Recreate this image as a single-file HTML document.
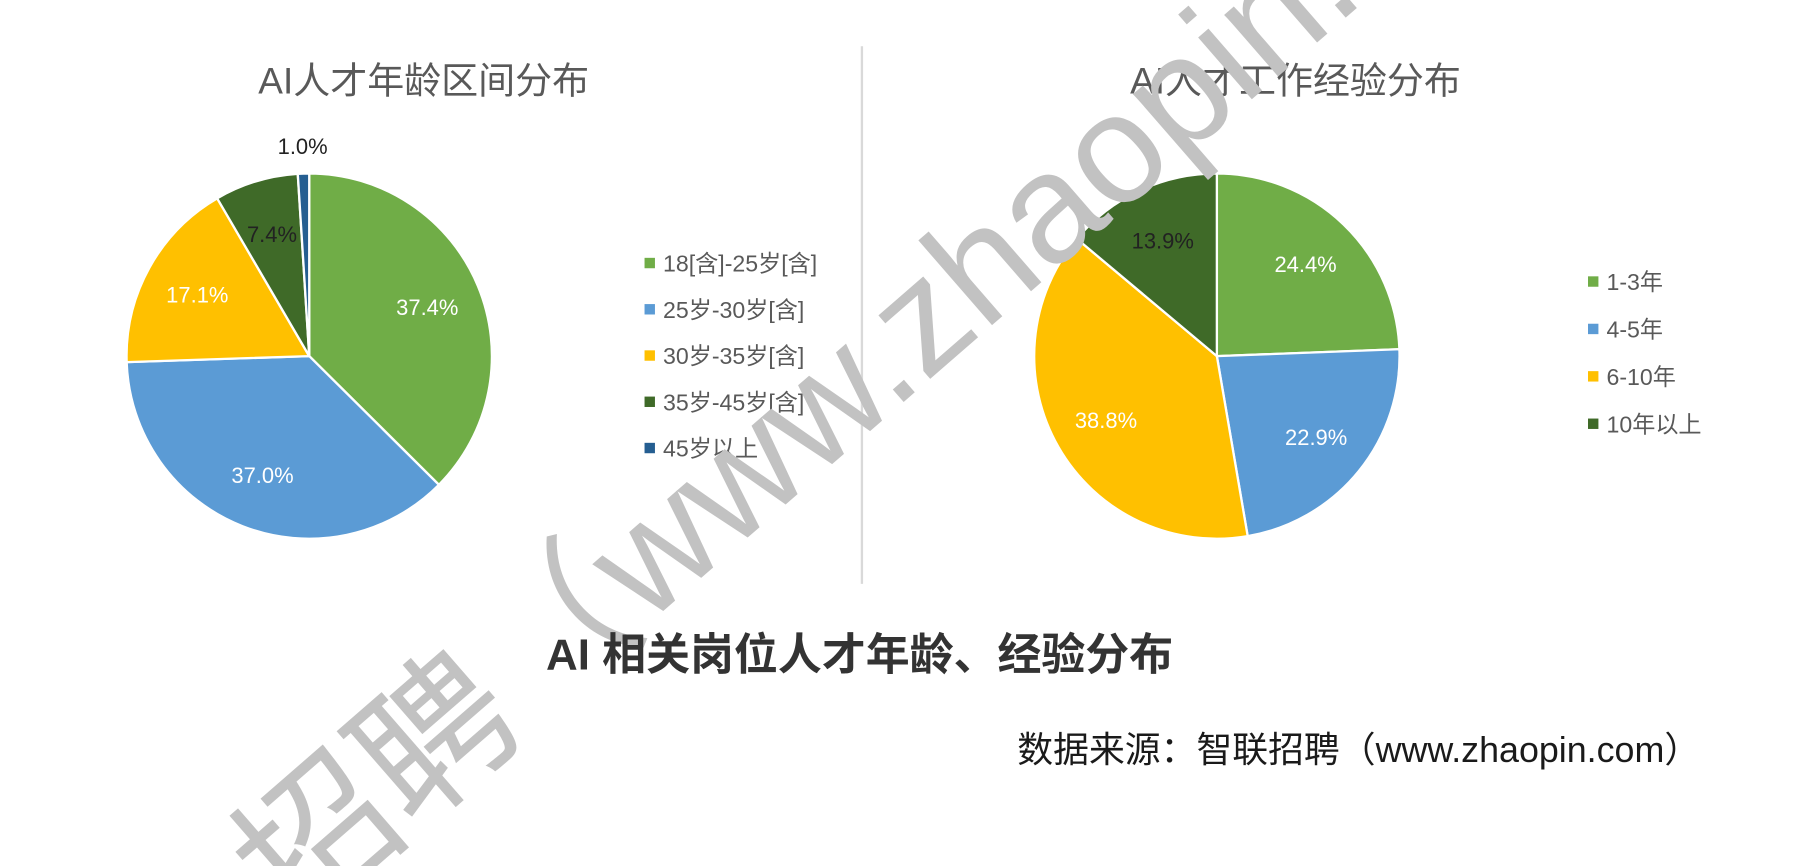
<!DOCTYPE html>
<html><head><meta charset="utf-8"><style>
html,body{margin:0;padding:0;background:#fff;overflow:hidden;width:1814px;height:866px;}
svg{display:block;}
text{font-family:"Liberation Sans","Noto Sans CJK SC",sans-serif;}
</style></head><body>
<svg id="c" width="1814" height="866" viewBox="0 0 1568 749" xmlns="http://www.w3.org/2000/svg">
<defs><clipPath id="clip"><rect x="0" y="0" width="1568" height="749"/></clipPath></defs>
<line x1="745" y1="40" x2="745" y2="505" stroke="#d9d9d9" stroke-width="2"/>
<text x="366" y="81" font-size="32" fill="#595959" text-anchor="middle">AI人才年龄区间分布</text>
<text x="1120" y="81" font-size="32" fill="#595959" text-anchor="middle">AI人才工作经验分布</text>
<g id="left"></g>
<g id="right"></g>
<g id="wm" clip-path="url(#clip)"><text x="255" y="805" font-size="134" fill="#c2c2c2" transform="rotate(-41 255 805)">招聘（www.zhaopin.com</text></g>
<text x="743" y="579" font-size="38" font-weight="bold" fill="#333" text-anchor="middle">AI 相关岗位人才年龄、经验分布</text>
<text x="1470" y="659" font-size="31" fill="#1a1a1a" text-anchor="end">数据来源：智联招聘（www.zhaopin.com）</text>
</svg>
<script>
const ageCategories=["18[含]-25岁[含]","25岁-30岁[含]","30岁-35岁[含]","35岁-45岁[含]","45岁以上"];
const ageValues=[37.4,37.0,17.1,7.4,1.0];
const expCategories=["1-3年","4-5年","6-10年","10年以上"];
const expValues=[24.4,22.9,38.8,13.9];
const ageColors=["#70ad47","#5b9bd5","#ffc000","#3f6a28","#255e91"];
const expColors=["#70ad47","#5b9bd5","#ffc000","#3f6a28"];
const NS="http://www.w3.org/2000/svg";
function mk(tag,attrs,parent){const e=document.createElementNS(NS,tag);for(const k in attrs)e.setAttribute(k,attrs[k]);parent.appendChild(e);return e;}
function pie(g,cx,cy,r,cats,vals,cols,lx,ly0,ldy,labelDark){
  const total=vals.reduce((a,b)=>a+b,0);let a=0;
  vals.forEach((v,i)=>{
    const a0=a/total*2*Math.PI,a1=(a+v)/total*2*Math.PI;a+=v;
    const p=(t)=>[cx+r*Math.sin(t),cy-r*Math.cos(t)];
    const [x0,y0]=p(a0),[x1,y1]=p(a1);
    const s=mk('path',{d:`M${cx},${cy}L${x0},${y0}A${r},${r} 0 ${a1-a0>Math.PI?1:0} 1 ${x1},${y1}Z`,fill:cols[i],stroke:'#fff','stroke-width':2},g);
    
    
    const m=(a0+a1)/2;const small=v<3;const rr=small?r*1.15:r*0.7;
    const t=mk('text',{x:cx+rr*Math.sin(m),y:cy-rr*Math.cos(m)+7,'font-size':19,'text-anchor':'middle',fill:(labelDark[i]||small)?'#222':'#fff'},g);
    t.textContent=v.toFixed(1)+'%';
    
    
    const ly=ly0+i*ldy;
    const sq=mk('rect',{x:lx,y:ly-5,width:9,height:9,fill:cols[i]},g);
    
    
    const lt=mk('text',{x:lx+16,y:ly+7,'font-size':20,fill:'#595959'},g);
    lt.textContent=cats[i];
    
    
  });
}
pie(document.getElementById('left'),267,308,158,ageCategories,ageValues,ageColors,557,228,40,[0,0,0,1,1]);
pie(document.getElementById('right'),1052,308,158,expCategories,expValues,expColors,1373,244,41,[0,0,0,1]);
</script>
</body></html>
